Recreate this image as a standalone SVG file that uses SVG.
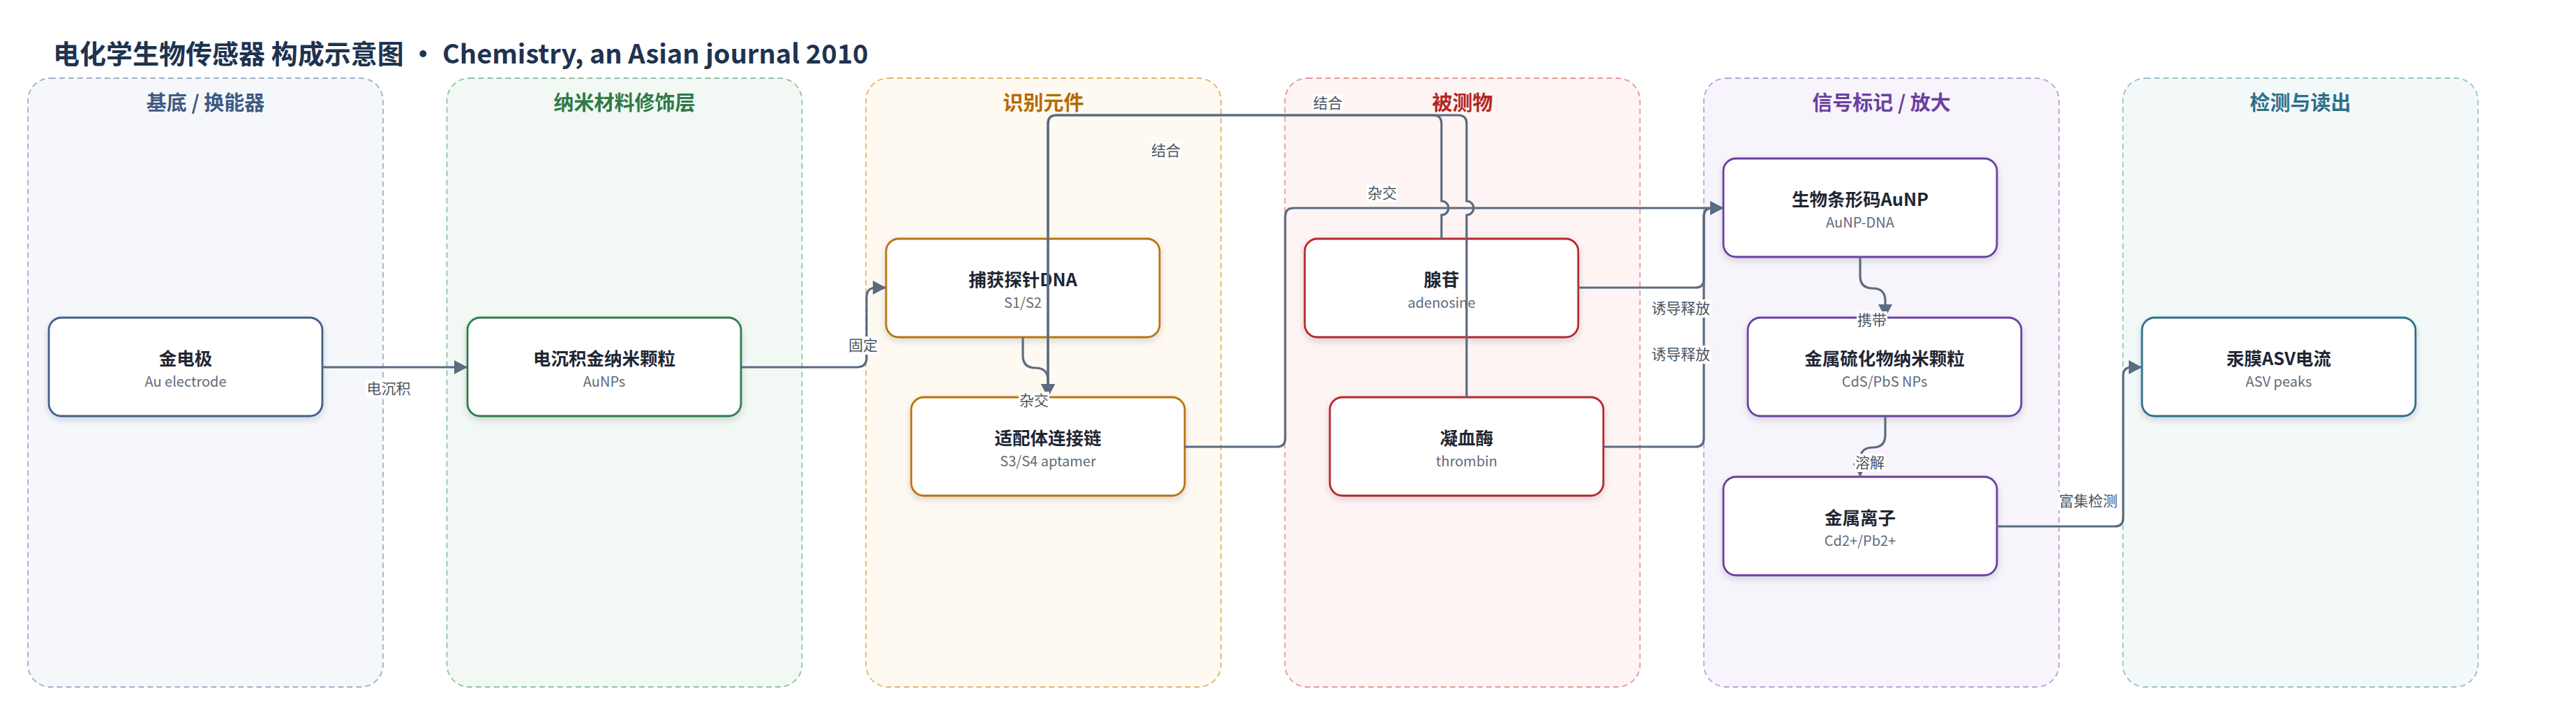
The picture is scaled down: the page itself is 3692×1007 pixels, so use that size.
<svg xmlns="http://www.w3.org/2000/svg" width="3692" height="1007" viewBox="0 0 3692 1007">
<style>
text{font-family:"Noto Sans CJK SC","Noto Sans",sans-serif}
.title{font-size:38px;font-weight:700;fill:#1e3350}
.lane{stroke-width:1.8;stroke-dasharray:8 5}
.lh{font-size:29px;font-weight:700;text-anchor:middle}
.node rect{fill:#fff;stroke-width:2.8;filter:url(#sh)}
.nt{font-size:25.5px;font-weight:700;fill:#1f2633;text-anchor:middle}
.ns{font-size:20px;fill:#5f6b7a;text-anchor:middle}
.edge{fill:none;stroke:#5b6b80;stroke-width:3.2;marker-end:url(#arr)}
.lbl rect{fill:#fff}
.lbl text{font-size:21px;fill:#4b5563;text-anchor:middle}
</style>
<defs>
<filter id="sh" x="-10%" y="-10%" width="120%" height="130%">
<feDropShadow dx="0" dy="4" stdDeviation="5" flood-color="#1f2937" flood-opacity="0.16"/>
</filter>
<marker id="arr" viewBox="0 0 20 20" markerWidth="20" markerHeight="20" refX="19" refY="10" orient="auto" markerUnits="userSpaceOnUse">
<path d="M0,0 L19,10 L0,20 z" fill="#5b6b80"/>
</marker>
</defs>
<rect width="3692" height="1007" fill="#fff"/>
<text class="title" x="76" y="91">电化学生物传感器 构成示意图 · Chemistry, an Asian journal 2010</text>

<g id="lanes">
<g id="lane-substrate"><rect class="lane" x="40" y="112" width="509" height="872" rx="32" fill="#f5f7fb" stroke="#9fb0c8"/><text class="lh" x="294.5" y="158" fill="#3e5a82">基底 / 换能器</text></g>
<g id="lane-nano"><rect class="lane" x="640.5" y="112" width="509" height="872" rx="32" fill="#f2f8f4" stroke="#93c2a2"/><text class="lh" x="895" y="158" fill="#2f7a47">纳米材料修饰层</text></g>
<g id="lane-recog"><rect class="lane" x="1241" y="112" width="509" height="872" rx="32" fill="#fef9f1" stroke="#e2b56e"/><text class="lh" x="1495.5" y="158" fill="#b36b00">识别元件</text></g>
<g id="lane-analyte"><rect class="lane" x="1841.5" y="112" width="509" height="872" rx="32" fill="#fdf4f3" stroke="#e39a96"/><text class="lh" x="2096" y="158" fill="#b3261e">被测物</text></g>
<g id="lane-signal"><rect class="lane" x="2442" y="112" width="509" height="872" rx="32" fill="#f7f4fb" stroke="#bca2d9"/><text class="lh" x="2696.5" y="158" fill="#6b3fa0">信号标记 / 放大</text></g>
<g id="lane-detect"><rect class="lane" x="3042.5" y="112" width="509" height="872" rx="32" fill="#f3f8f9" stroke="#9ac0cb"/><text class="lh" x="3297" y="158" fill="#2e6f89">检测与读出</text></g>
</g>

<g id="n-au" class="node"><rect x="70" y="455" width="392" height="141" rx="18" stroke="#41608a"/><text class="nt" x="266" y="523">金电极</text><text class="ns" x="266" y="554">Au electrode</text></g>
<g id="n-aunps" class="node"><rect x="670" y="455" width="392" height="141" rx="18" stroke="#2e7d4a"/><text class="nt" x="866" y="523">电沉积金纳米颗粒</text><text class="ns" x="866" y="554">AuNPs</text></g>
<g id="n-capture" class="node"><rect x="1270" y="342" width="392" height="141" rx="18" stroke="#b8740a"/><text class="nt" x="1466" y="410">捕获探针DNA</text><text class="ns" x="1466" y="441">S1/S2</text></g>
<g id="n-aptamer" class="node"><rect x="1306" y="569" width="392" height="141" rx="18" stroke="#b8740a"/><text class="nt" x="1502" y="637">适配体连接链</text><text class="ns" x="1502" y="668">S3/S4 aptamer</text></g>
<g id="n-adenosine" class="node"><rect x="1870" y="342" width="392" height="141" rx="18" stroke="#b8282a"/><text class="nt" x="2066" y="410">腺苷</text><text class="ns" x="2066" y="441">adenosine</text></g>
<g id="n-thrombin" class="node"><rect x="1906" y="569" width="392" height="141" rx="18" stroke="#b8282a"/><text class="nt" x="2102" y="637">凝血酶</text><text class="ns" x="2102" y="668">thrombin</text></g>
<g id="n-barcode" class="node"><rect x="2470" y="227" width="392" height="141" rx="18" stroke="#6a40a0"/><text class="nt" x="2666" y="295">生物条形码AuNP</text><text class="ns" x="2666" y="326">AuNP-DNA</text></g>
<g id="n-sulfide" class="node"><rect x="2505" y="455" width="392" height="141" rx="18" stroke="#6a40a0"/><text class="nt" x="2701" y="523">金属硫化物纳米颗粒</text><text class="ns" x="2701" y="554">CdS/PbS NPs</text></g>
<g id="n-ions" class="node"><rect x="2470" y="683" width="392" height="141" rx="18" stroke="#6a40a0"/><text class="nt" x="2666" y="751">金属离子</text><text class="ns" x="2666" y="782">Cd2+/Pb2+</text></g>
<g id="n-asv" class="node"><rect x="3070" y="455" width="392" height="141" rx="18" stroke="#2f6f8a"/><text class="nt" x="3266" y="523">汞膜ASV电流</text><text class="ns" x="3266" y="554">ASV peaks</text></g>

<g id="connectors">
<path class="edge" d="M462,526 H670"/>
<path class="edge" d="M1062,526 H1228 Q1242,526 1242,512 V426 Q1242,412 1256,412 H1270"/>
<path class="edge" d="M1466,483 V509 Q1466,527 1484,527 Q1502,527 1502,545 V569"/>
<path class="edge" d="M2066,342 V308 A10,10 0 0 0 2066,288 V177 Q2066,165 2054,165 H1514 Q1502,165 1502,177 V569"/>
<path class="edge" d="M2102,569 V308 A10,10 0 0 0 2102,288 V177 Q2102,165 2090,165 H1514 Q1502,165 1502,177 V569"/>
<path class="edge" d="M1697,640 H1830 Q1842,640 1842,628 V310 Q1842,298 1854,298 H2470"/>
<path class="edge" d="M2262,412 H2430 Q2442,412 2442,400 V310 Q2442,298 2454,298 H2470"/>
<path class="edge" d="M2299,640 H2430 Q2442,640 2442,628 V310 Q2442,298 2454,298 H2470"/>
<path class="edge" d="M2666,368 V395 Q2666,413 2684,413 Q2702,413 2702,431 V455"/>
<path class="edge" d="M2702,596 V623 Q2702,641 2684,641 Q2666,641 2666,659 V683"/>
<path class="edge" d="M2861,754 H3031 Q3043,754 3043,742 V538 Q3043,526 3055,526 H3070"/>
<g class="lbl"><rect x="524" y="544" width="66" height="26"/><text x="557" y="564">电沉积</text></g>
<g class="lbl"><rect x="1215" y="482" width="44" height="26"/><text x="1237" y="502">固定</text></g>
<g class="lbl"><rect x="1460" y="561" width="44" height="26"/><text x="1482" y="581">杂交</text></g>
<g class="lbl"><rect x="1649" y="203" width="44" height="26"/><text x="1671" y="223">结合</text></g>
<g class="lbl"><rect x="1881" y="135" width="44" height="26"/><text x="1903" y="155">结合</text></g>
<g class="lbl"><rect x="1959" y="264" width="44" height="26"/><text x="1981" y="284">杂交</text></g>
<g class="lbl"><rect x="2365" y="429" width="88" height="26"/><text x="2409" y="449">诱导释放</text></g>
<g class="lbl"><rect x="2365" y="495" width="88" height="26"/><text x="2409" y="515">诱导释放</text></g>
<g class="lbl"><rect x="2661" y="446" width="44" height="26"/><text x="2683" y="466">携带</text></g>
<g class="lbl"><rect x="2658" y="650" width="44" height="26"/><text x="2680" y="670">溶解</text></g>
<g class="lbl"><rect x="2949" y="705" width="88" height="26"/><text x="2993" y="725">富集检测</text></g>
</g>
</svg>
